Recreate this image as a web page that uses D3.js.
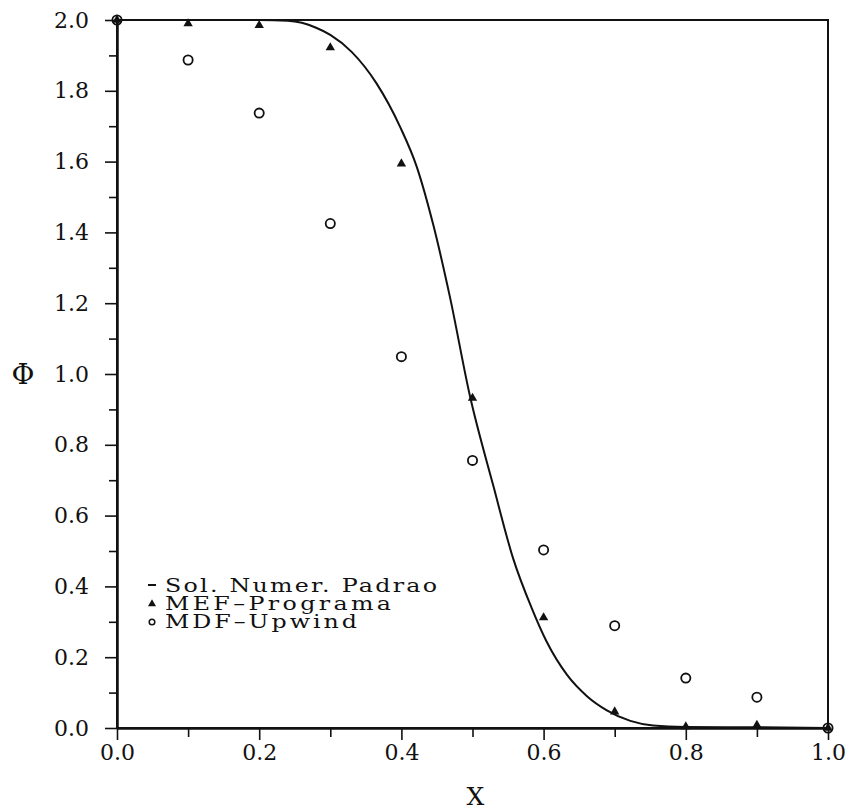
<!DOCTYPE html>
<html>
<head>
<meta charset="utf-8">
<script src="https://cdn.jsdelivr.net/npm/d3@7"></script>
<style>
  html, body { margin: 0; padding: 0; background: #fff; }
  svg { display: block; }
  text { font-family: "DejaVu Serif", serif; fill: #111; }
</style>
</head>
<body>
<svg id="chart" width="845" height="812"></svg>
<script>
// Mesh nodes and the two numerical solutions at those nodes
const nodesX = [0, 0.1, 0.2, 0.3, 0.4, 0.5, 0.6, 0.7, 0.8, 0.9, 1.0];
const mefValues = [2.0, 1.99, 1.985, 1.922, 1.594, 0.932, 0.312, 0.046, 0.004, 0.008, 0.0];
const mdfValues = [2.0, 1.887, 1.737, 1.425, 1.049, 0.756, 0.503, 0.289, 0.141, 0.087, 0.0];

// Reference (fine-mesh) solution
const refX = [0, 0.1, 0.2, 0.24, 0.26, 0.28, 0.30, 0.33, 0.365, 0.398, 0.4215, 0.445, 0.468,
              0.4965, 0.5293, 0.557, 0.583, 0.604, 0.633, 0.661, 0.689, 0.722, 0.754, 0.8, 0.9, 1.0];
const refY = [2.0, 2.0, 2.0, 1.998, 1.992, 1.978, 1.958, 1.91, 1.821, 1.699, 1.586, 1.42, 1.22,
              0.937, 0.684, 0.48, 0.34, 0.245, 0.15, 0.09, 0.05, 0.02, 0.007, 0.003, 0.002, 0.0];

// Axis ticks
const xMajor = [0, 0.2, 0.4, 0.6, 0.8, 1.0];
const xMinor = [0.1, 0.3, 0.5, 0.7, 0.9];
const yMajor = [0, 0.2, 0.4, 0.6, 0.8, 1.0, 1.2, 1.4, 1.6, 1.8, 2.0];
const yMinor = [0.1, 0.3, 0.5, 0.7, 0.9, 1.1, 1.3, 1.5, 1.7, 1.9];

const legendLabels = ["Sol. Numer. Padrao", "MEF\u2013Programa", "MDF\u2013Upwind"];

const margin = { left: 117, right: 17, top: 20, bottom: 84 };
const W = 845, H = 812;
const svg = d3.select("#chart");

const x = d3.scaleLinear().domain([0, 1]).range([margin.left, W - margin.right]);
const y = d3.scaleLinear().domain([0, 2]).range([H - margin.bottom, margin.top]);
const fmt = d3.format(".1f");

const ink = "#111";

// Frame (top and right edges)
svg.append("rect")
  .attr("x", x(0)).attr("y", y(2))
  .attr("width", x(1) - x(0)).attr("height", y(0) - y(2))
  .attr("fill", "none").attr("stroke", ink).attr("stroke-width", 2);

// Bottom axis
svg.append("g").attr("transform", `translate(0,${y(0)})`)
  .call(d3.axisBottom(x).tickValues(xMajor).tickFormat(fmt).tickSize(12).tickSizeOuter(0).tickPadding(4));
svg.append("g").attr("transform", `translate(0,${y(0)})`)
  .call(d3.axisBottom(x).tickValues(xMinor).tickFormat("").tickSize(9).tickSizeOuter(0));

// Left axis
svg.append("g").attr("transform", `translate(${x(0)},0)`)
  .call(d3.axisLeft(y).tickValues(yMajor).tickFormat(fmt).tickSize(12).tickSizeOuter(0).tickPadding(16));
svg.append("g").attr("transform", `translate(${x(0)},0)`)
  .call(d3.axisLeft(y).tickValues(yMinor).tickFormat("").tickSize(8).tickSizeOuter(0));

svg.selectAll(".domain").attr("stroke", ink).attr("stroke-width", 2);
svg.selectAll(".tick line").attr("stroke", ink).attr("stroke-width", 1.6);
svg.selectAll(".tick text").style("font-family", "'DejaVu Serif', serif")
  .style("font-size", "22px").attr("fill", ink);

// Axis titles
svg.append("text").attr("x", x(0.5) + 3).attr("y", 805)
  .attr("text-anchor", "middle").style("font-size", "25px").text("X");
svg.append("text").attr("x", 23).attr("y", y(1) + 10)
  .attr("text-anchor", "middle").style("font-size", "28px").text("\u03A6");

// Reference solution curve
const refPts = refX.map((v, i) => [v, refY[i]]);
svg.append("path")
  .datum(refPts)
  .attr("fill", "none").attr("stroke", ink).attr("stroke-width", 2)
  .attr("d", d3.line().x(d => x(d[0])).y(d => y(d[1])).curve(d3.curveMonotoneX));

// MEF points: small filled triangles
const tri = d3.symbol().type(d3.symbolTriangle).size(38);
svg.append("g").selectAll("path")
  .data(nodesX.map((v, i) => [v, mefValues[i]]))
  .join("path")
  .attr("transform", d => `translate(${x(d[0])},${y(d[1])})`)
  .attr("d", tri).attr("fill", ink);

// MDF points: open circles
svg.append("g").selectAll("circle")
  .data(nodesX.map((v, i) => [v, mdfValues[i]]))
  .join("circle")
  .attr("cx", d => x(d[0])).attr("cy", d => y(d[1]))
  .attr("r", 4.6).attr("fill", "none").attr("stroke", ink).attr("stroke-width", 1.8);

// Legend (wide typewriter-like lettering: glyphs stretched horizontally)
const legX = 152, legTextX = 165, legY0 = 592, legDy = 18, stretch = 1.25;
const legWidths = [272, 226, 192];
const leg = svg.append("g");
leg.append("line")
  .attr("x1", legX - 4).attr("x2", legX + 4)
  .attr("y1", legY0 - 7).attr("y2", legY0 - 7)
  .attr("stroke", ink).attr("stroke-width", 2);
leg.append("path")
  .attr("transform", `translate(${legX},${legY0 + legDy - 6})`)
  .attr("d", d3.symbol().type(d3.symbolTriangle).size(28)).attr("fill", ink);
leg.append("circle")
  .attr("cx", legX).attr("cy", legY0 + 2 * legDy - 6).attr("r", 2.8)
  .attr("fill", "none").attr("stroke", ink).attr("stroke-width", 1.5);
leg.selectAll("text")
  .data(legendLabels)
  .join("text")
  .attr("transform", (d, i) => `translate(${legTextX},${legY0 + i * legDy}) scale(${stretch},1)`)
  .attr("textLength", (d, i) => legWidths[i] / stretch)
  .attr("lengthAdjust", "spacing")
  .style("font-size", "19px")
  .text(d => d);
</script>
</body>
</html>
